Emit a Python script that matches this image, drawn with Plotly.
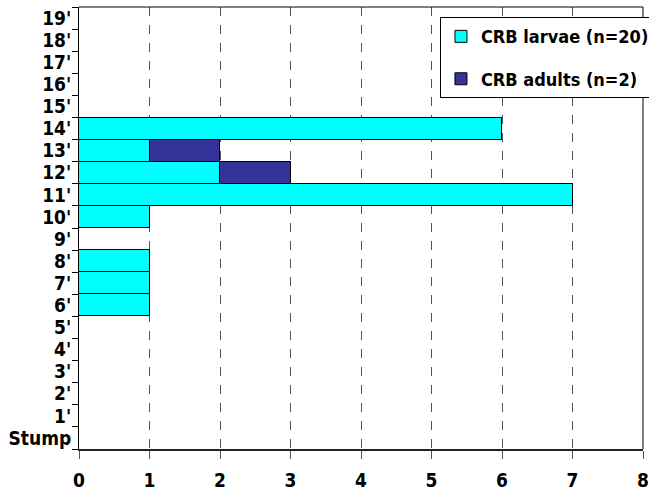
import plotly.graph_objects as go

categories = ["Stump", "1'", "2'", "3'", "4'", "5'", "6'", "7'", "8'", "9'",
              "10'", "11'", "12'", "13'", "14'", "15'", "16'", "17'", "18'", "19'"]
larvae = [0, 0, 0, 0, 0, 0, 1, 1, 1, 0, 1, 7, 2, 1, 6, 0, 0, 0, 0, 0]
adults = [0, 0, 0, 0, 0, 0, 0, 0, 0, 0, 0, 0, 1, 1, 0, 0, 0, 0, 0, 0]
x_ticks = [0, 1, 2, 3, 4, 5, 6, 7, 8]

FONT = "DejaVu Sans Condensed"


def f(size):
    return dict(size=size, family=FONT, color="black", weight="bold")


fig = go.Figure()
fig.add_trace(go.Bar(
    y=categories, x=larvae, orientation="h", name="CRB larvae (n=20)",
    marker=dict(color="#00FFFF", line=dict(color="black", width=1)),
    legendgroup="a",
))
fig.add_trace(go.Bar(
    y=categories, x=adults, orientation="h", name="CRB adults (n=2)",
    marker=dict(color="#333399", line=dict(color="black", width=1)),
    legendgroup="b",
))

fig.update_layout(
    width=649, height=502,
    margin=dict(l=79, r=6, t=7, b=53, autoexpand=False),
    barmode="stack", bargap=0,
    plot_bgcolor="white", paper_bgcolor="white",
    font=f(16),
    legend=dict(
        x=0.640, y=0.977, xanchor="left", yanchor="top",
        bordercolor="black", borderwidth=1, bgcolor="white",
        font=f(18),
        traceorder="grouped", tracegroupgap=16,
    ),
    xaxis=dict(
        range=[0, 8], tickvals=x_ticks,
        showgrid=True, gridcolor="#555555", griddash="dash", gridwidth=1,
        showline=True, linecolor="#222222", linewidth=2, mirror=False,
        ticks="outside", ticklen=8, tickcolor="#555555",
        ticklabelstandoff=5,
        tickfont=f(19),
        zeroline=False, automargin=False,
    ),
    yaxis=dict(
        type="category", categoryorder="array", categoryarray=categories,
        tickvals=categories,
        tickson="boundaries", ticks="outside", ticklen=6, tickcolor="black",
        showgrid=False, showline=True, linecolor="black", linewidth=1,
        ticklabelstandoff=3,
        tickfont=f(19),
        zeroline=False, automargin=False,
    ),
    showlegend=True,
)
# frame on top and right
fig.add_shape(type="line", xref="paper", yref="paper", x0=0, x1=1, y0=1, y1=1,
              line=dict(color="black", width=1))
fig.add_shape(type="line", xref="paper", yref="paper", x0=1, x1=1, y0=0, y1=1,
              line=dict(color="black", width=1))

# remove the default 8px page margin so the figure fills the window exactly
fig.write_html(
    "out.html",
    config={"displayModeBar": False},
    post_script="document.body.style.margin='0px';document.body.style.overflow='hidden';",
)
